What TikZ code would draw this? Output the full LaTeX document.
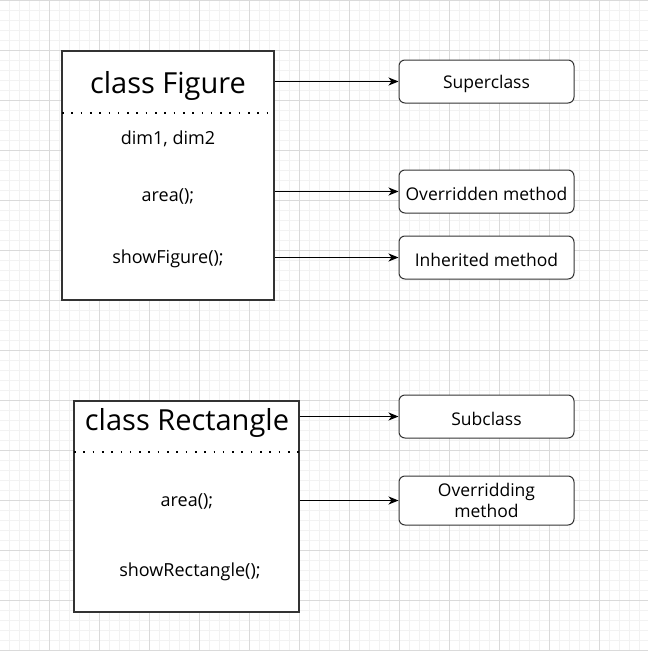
\documentclass[tikz,border=0pt]{standalone}
\usepackage{fontspec}
\setmainfont{Open Sans}
\usetikzlibrary{arrows.meta}
\definecolor{gridminor}{HTML}{F2F2F2}
\definecolor{gridmajor}{HTML}{DADADA}
\definecolor{boxline}{HTML}{333333}
\newcommand{\lowertext}[1]{\raisebox{-2pt}[\height][\depth]{#1}}
\tikzset{
  classbox/.style={draw=boxline, line width=1.3pt, fill=white, minimum width=#1, inner sep=0pt},
  labelbox/.style={draw=boxline, line width=1pt, fill=white, rounded corners=6pt, minimum width=175pt, minimum height=43pt, inner sep=1pt, align=center, font=\fontsize{17.5}{21}\selectfont},
  titletext/.style={font=\fontsize{29}{32}\selectfont},
  membertext/.style={font=\fontsize{18}{20}\selectfont},
  sepline/.style={line width=2pt, dash pattern=on 1.6pt off 7.7pt},
  conn/.style={line width=1pt, -{Stealth[length=10pt,width=8pt,inset=3pt]}},
}
\begin{document}
\begin{tikzpicture}[x=1pt,y=-1pt]
\useasboundingbox (0,0) rectangle (648,651);
\fill[white] (0,0) rectangle (648,651);
% grid
\foreach \i in {-1,9,...,640} \draw[gridminor, line width=0.7pt] (\i,0) -- (\i,651);
\foreach \j in {0,10,...,650} \draw[gridminor, line width=0.7pt] (0,\j) -- (648,\j);
\foreach \i in {-1,49,...,640} \draw[gridmajor, line width=0.7pt] (\i,0) -- (\i,651);
\foreach \j in {0,50,...,650} \draw[gridmajor, line width=0.7pt] (0,\j) -- (648,\j);

% class Figure
\node[classbox=212pt, minimum height=249pt] (fig) at (168,175.5) {};
\node[titletext] (figtitle) at (168,86) {class Figure};
\coordinate (figsepL) at (62,113);
\coordinate (figsepR) at (274,113);
\draw[sepline] (figsepL) -- (figsepR);
\node[membertext] (dims) at (168,139) {dim1, dim2};
\node[membertext] (figarea) at (168,196) {area();};
\node[membertext] (figshow) at (168,259) {showFigure();};

% class Rectangle
\node[classbox=225pt, minimum height=211pt] (rect) at (186.5,506.5) {};
\node[titletext] (recttitle) at (187,423) {class Rectangle};
\coordinate (rectsepL) at (74,452);
\coordinate (rectsepR) at (299,452);
\draw[sepline] (rectsepL) -- (rectsepR);
\node[membertext] (rectarea) at (187,501) {area();};
\node[membertext] (rectshow) at (190,572) {showRectangle();};

% label boxes
\node[labelbox] (super) at (486.5,81.5) {\lowertext{Superclass}};
\node[labelbox] (overn) at (486.5,191.5) {\lowertext{Overridden method}};
\node[labelbox] (inher) at (486.5,257.5) {\lowertext{Inherited method}};
\node[labelbox] (sub) at (486.5,416.5) {\lowertext{Subclass}};
\node[labelbox, minimum height=49pt] (overg) at (486.5,500.5) {Overridding\\method};

% connectors
\draw[conn] (super.west -| fig.east) -- (super.west);
\draw[conn] (overn.west -| fig.east) -- (overn.west);
\draw[conn] (inher.west -| fig.east) -- (inher.west);
\draw[conn] (sub.west -| rect.east) -- (sub.west);
\draw[conn] (overg.west -| rect.east) -- (overg.west);
\end{tikzpicture}
\end{document}
